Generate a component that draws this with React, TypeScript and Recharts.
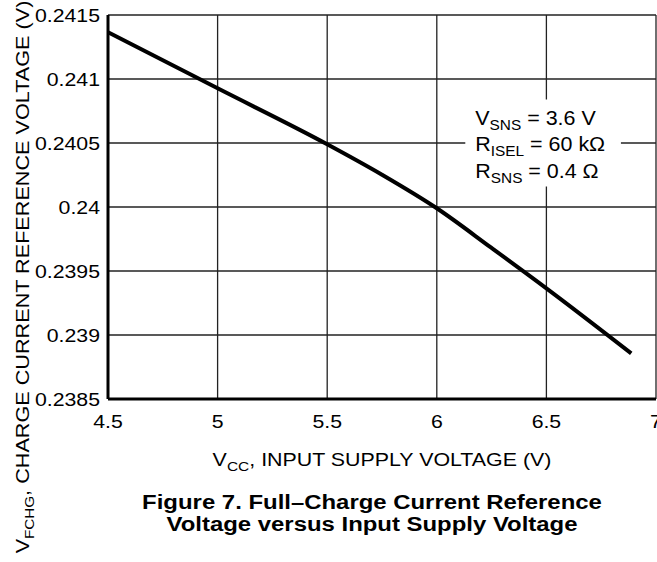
import React from 'react';
import { LineChart, Line, XAxis, YAxis, CartesianGrid, ReferenceArea, Label } from 'recharts';

const vccValues = [4.5, 5.0, 5.5, 5.75, 6.0, 6.25, 6.5, 6.887];
const vfchgValues = [0.241365, 0.240927, 0.24049, 0.240252, 0.23999, 0.23968, 0.239365, 0.238857];
const xTicks = [4.5, 5, 5.5, 6, 6.5, 7];
const xTickLabels = ['4.5', '5', '5.5', '6', '6.5', '7'];
const yTicks = [0.2385, 0.239, 0.2395, 0.24, 0.2405, 0.241, 0.2415];
const yTickLabels = ['0.2385', '0.239', '0.2395', '0.24', '0.2405', '0.241', '0.2415'];
const noteLines = [
  { main: 'V', sub: 'SNS', rest: ' = 3.6 V' },
  { main: 'R', sub: 'ISEL', rest: ' = 60 k\u03A9' },
  { main: 'R', sub: 'SNS', rest: ' = 0.4 \u03A9' },
];
const noteBox = { x1: 6.13, x2: 6.84, y1: 0.24016, y2: 0.24084 };

const data = vccValues.map((v, i) => ({ vcc: v, vfchg: vfchgValues[i] }));

const FONT = '"Liberation Sans", Arial, Helvetica, sans-serif';
const SX = 1.15;

const XTick = (props: any) => {
  const { x, y, payload } = props;
  const idx = xTicks.indexOf(payload.value);
  const label = idx >= 0 ? xTickLabels[idx] : String(payload.value);
  return (
    <g transform={`translate(${x},${y + 29}) scale(${SX},1)`}>
      <text x={0} y={0} textAnchor="middle" fontSize={18.5} fontFamily={FONT} fill="#000">{label}</text>
    </g>
  );
};

const YTick = (props: any) => {
  const { x, y, payload } = props;
  const idx = yTicks.indexOf(payload.value);
  const label = idx >= 0 ? yTickLabels[idx] : String(payload.value);
  return (
    <g transform={`translate(${x - 8},${y + 7}) scale(${SX},1)`}>
      <text x={0} y={0} textAnchor="end" fontSize={18.5} fontFamily={FONT} fill="#000">{label}</text>
    </g>
  );
};

const XAxisTitle = (props: any) => {
  const vb = props.viewBox;
  const cx = vb.x + vb.width / 2;
  return (
    <g>
      <g transform={`translate(${cx},${vb.y + 67}) scale(${SX},1)`}>
        <text x={0} y={0} textAnchor="middle" fontSize={18.6} fontFamily={FONT} fill="#000">
          <tspan>V</tspan>
          <tspan fontSize={13.5} dy={5}>CC</tspan>
          <tspan dy={-5}>, INPUT SUPPLY VOLTAGE (V)</tspan>
        </text>
      </g>
      <g transform={`translate(${cx - 10},${vb.y + 110}) scale(${SX},1)`}>
        <text x={0} y={0} textAnchor="middle" fontSize={20.8} fontWeight="bold" fontFamily={FONT} fill="#000">
          Figure 7. Full–Charge Current Reference
        </text>
      </g>
      <g transform={`translate(${cx - 10},${vb.y + 132}) scale(${SX},1)`}>
        <text x={0} y={0} textAnchor="middle" fontSize={20.8} fontWeight="bold" fontFamily={FONT} fill="#000">
          Voltage versus Input Supply Voltage
        </text>
      </g>
    </g>
  );
};

const YAxisTitle = (props: any) => {
  const vb = props.viewBox;
  return (
    <g transform={`translate(${vb.x + 21},${vb.y + 262}) rotate(-90) scale(1.17,1)`}>
      <text x={0} y={0} textAnchor="middle" fontSize={18.5} fontFamily={FONT} fill="#000">
        <tspan>V</tspan>
        <tspan fontSize={13} dy={5}>FCHG</tspan>
        <tspan dy={-5}>, CHARGE CURRENT REFERENCE VOLTAGE (V)</tspan>
      </text>
    </g>
  );
};

const NoteText = (props: any) => {
  const vb = props.viewBox;
  const offsets = [25.3, 51.7, 78.3];
  return (
    <g>
      {noteLines.map((ln, i) => (
        <g key={i} transform={`translate(${vb.x + 10},${vb.y + offsets[i]}) scale(1.1,1)`}>
          <text x={0} y={0} fontSize={19.5} fontFamily={FONT} fill="#000">
            <tspan>{ln.main}</tspan>
            <tspan fontSize={14} dy={5}>{ln.sub}</tspan>
            <tspan dy={-5}>{ln.rest}</tspan>
          </text>
        </g>
      ))}
    </g>
  );
};

export default function App() {
  return (
    <div style={{ position: 'absolute', left: 0, top: 0, width: 657, height: 562, background: '#fff' }}>
      <LineChart
        width={657}
        height={562}
        data={data}
        margin={{ top: 15, right: 1, bottom: 123, left: 8 }}
      >
        <CartesianGrid stroke="#222" strokeWidth={1.3} horizontalValues={yTicks} verticalValues={xTicks} />
        <XAxis
          dataKey="vcc"
          type="number"
          domain={[4.5, 7]}
          ticks={xTicks}
          allowDataOverflow
          height={40}
          tickSize={0}
          tickMargin={0}
          tickLine={false}
          axisLine={{ stroke: '#000', strokeWidth: 3 }}
          tick={<XTick />}
          interval={0}
        >
          <Label content={<XAxisTitle />} />
        </XAxis>
        <YAxis
          type="number"
          domain={[0.2385, 0.2415]}
          ticks={yTicks}
          allowDataOverflow
          width={100}
          tickSize={0}
          tickMargin={0}
          tickLine={false}
          axisLine={{ stroke: '#000', strokeWidth: 3 }}
          tick={<YTick />}
          interval={0}
        >
          <Label content={<YAxisTitle />} />
        </YAxis>
        <ReferenceArea
          x1={noteBox.x1}
          x2={noteBox.x2}
          y1={noteBox.y1}
          y2={noteBox.y2}
          fill="#fff"
          fillOpacity={1}
          stroke="none"
          ifOverflow="visible"
        >
          <Label content={<NoteText />} />
        </ReferenceArea>
        <Line
          type="monotone"
          dataKey="vfchg"
          stroke="#000"
          strokeWidth={4}
          dot={false}
          isAnimationActive={false}
        />
      </LineChart>
    </div>
  );
}
